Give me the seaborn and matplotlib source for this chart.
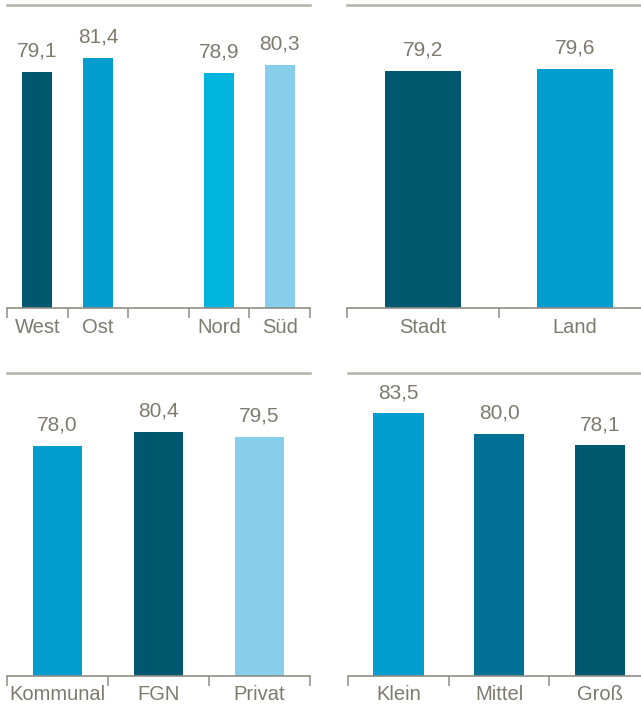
import matplotlib
matplotlib.use("Agg")
import matplotlib.pyplot as plt
import seaborn as sns
import numpy as np
from matplotlib.ticker import FixedLocator

sns.set_theme(style="white")
plt.rcParams['font.family'] = ['Liberation Sans Narrow', 'Liberation Sans', 'DejaVu Sans']

DARK = "#005770"
MID = "#009DCE"
CYAN = "#00B4DE"
LIGHT = "#86CEEA"
MIDDARK = "#007094"
TEXT = "#7d7a6e"
SPINE = "#8f8d85"
TOPLINE = "#b3b0a8"

# Panel 1: region
region_order = ["West", "Ost", "", "Nord", "Süd"]
region_cats = ["West", "Ost", "Nord", "Süd"]
region_vals = [79.1, 81.4, 78.9, 80.3]
region_cols = [DARK, MID, CYAN, LIGHT]

# Panel 2: Stadt/Land
area_cats = ["Stadt", "Land"]
area_vals = [79.2, 79.6]
area_cols = [DARK, MID]

# Panel 3: Träger
owner_cats = ["Kommunal", "FGN", "Privat"]
owner_vals = [78.0, 80.4, 79.5]
owner_cols = [MID, DARK, LIGHT]

# Panel 4: Größe
size_cats = ["Klein", "Mittel", "Groß"]
size_vals = [83.5, 80.0, 78.1]
size_cols = [MID, MIDDARK, DARK]

W, H = 641, 710
fig = plt.figure(figsize=(W / 100, H / 100), dpi=100)

def px_axes(x0, x1, ybase, ytop):
    return fig.add_axes([x0 / W, (H - ybase) / H, (x1 - x0) / W, (ybase - ytop) / H])

def fmt(v):
    return f"{v:.1f}".replace(".", ",")

def panel(ax, cats, vals, cols, order=None, width=0.5):
    if order is None:
        order = cats
    n = len(order)
    sns.barplot(x=cats, y=vals, hue=cats, order=order, hue_order=cats,
                palette=dict(zip(cats, cols)), saturation=1, width=width,
                linewidth=0, legend=False, ax=ax)
    ax.set_ylim(39, 90.4)
    ax.set_xlim(-0.5, n - 0.5)
    for c in ax.containers:
        ax.bar_label(c, fmt=fmt, padding=8, color=TEXT, fontsize=15)
    for s in ["left", "right"]:
        ax.spines[s].set_visible(False)
    ax.spines["bottom"].set_color(SPINE)
    ax.spines["bottom"].set_linewidth(1.2)
    ax.spines["top"].set_color(TOPLINE)
    ax.spines["top"].set_linewidth(1.8)
    ax.set_yticks([])
    ax.xaxis.set_major_locator(FixedLocator(np.arange(n + 1) - 0.5))
    ax.xaxis.set_minor_locator(FixedLocator(np.arange(n)))
    ax.set_xticklabels([""] * (n + 1))
    ax.set_xticklabels(order, minor=True)
    ax.tick_params(axis="x", which="major", direction="out", length=7,
                   width=1.1, color=SPINE, bottom=True)
    ax.tick_params(axis="x", which="minor", length=0, pad=7,
                   labelsize=14.5, labelcolor=TEXT, bottom=True)
    ax.set_xlabel("")
    ax.set_ylabel("")
    ax.set_facecolor("white")

ax1 = px_axes(7, 310, 308, 5)
panel(ax1, region_cats, region_vals, region_cols, order=region_order)

ax2 = px_axes(347, 651, 308, 5)
panel(ax2, area_cats, area_vals, area_cols)

ax3 = px_axes(7, 310, 675.7, 372.7)
panel(ax3, owner_cats, owner_vals, owner_cols, width=0.49)

ax4 = px_axes(348, 650, 675.7, 372.7)
panel(ax4, size_cats, size_vals, size_cols)

fig.savefig("out.png", dpi=100, facecolor="white")
